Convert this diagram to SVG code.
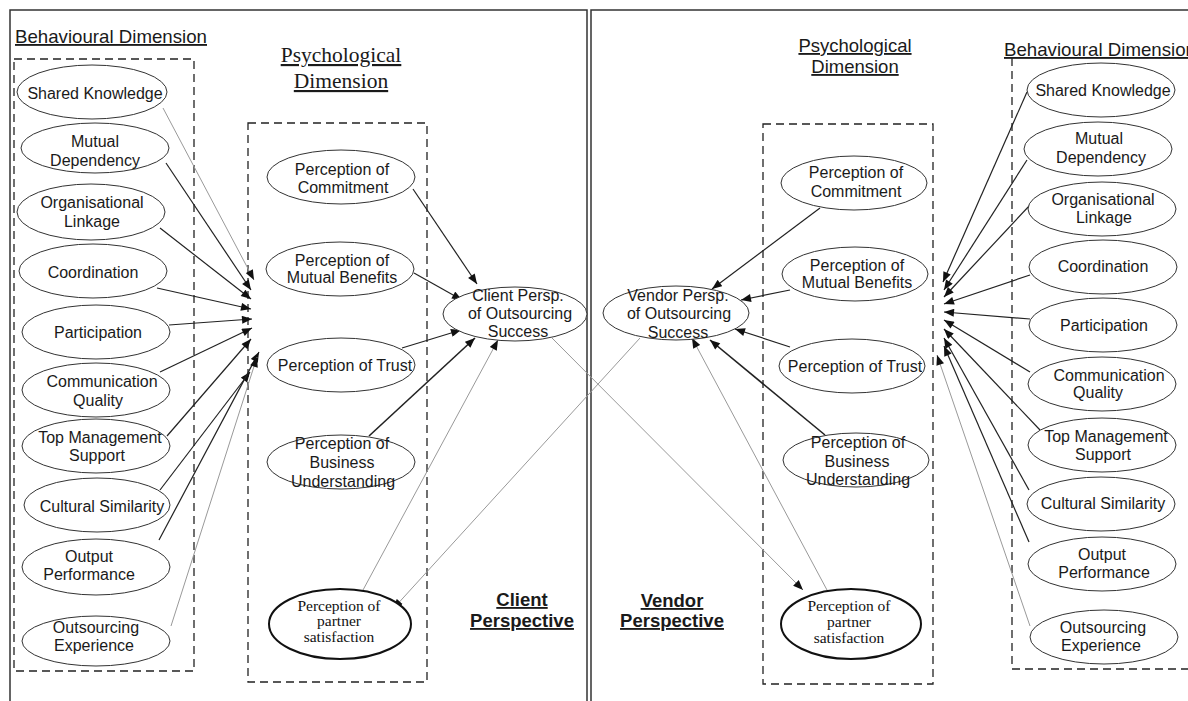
<svg xmlns="http://www.w3.org/2000/svg" width="1188" height="701" viewBox="0 0 1188 701">
<style>
.t{font-family:"Liberation Sans",Arial,sans-serif;font-size:16px;fill:#1a1a1a;text-anchor:middle}
.ts{font-family:"Liberation Serif","Times New Roman",serif;font-size:15.5px;fill:#111;text-anchor:middle}
.h{font-family:"Liberation Sans",Arial,sans-serif;font-size:18.5px;fill:#1a1a1a;text-decoration:underline}
.hs{font-family:"Liberation Serif","Times New Roman",serif;font-size:21.5px;fill:#1a1a1a;text-anchor:middle;text-decoration:underline}
.hb{font-family:"Liberation Sans",Arial,sans-serif;font-size:18.5px;font-weight:bold;fill:#1a1a1a;text-anchor:middle;text-decoration:underline}
.e{fill:#fff;stroke:#333;stroke-width:1}
.eb{fill:#fff;stroke:#111;stroke-width:2}
.frame{fill:none;stroke:#333;stroke-width:1.5}
.dash{fill:none;stroke:#222;stroke-width:1.3;stroke-dasharray:8 5}
.c{stroke:#222;stroke-width:1.2;fill:none;marker-end:url(#ah)}
.cg{stroke:#999;stroke-width:1;fill:none;marker-end:url(#ah)}
.ck{stroke:#222;stroke-width:1.6;fill:none;marker-end:url(#ah)}
</style>
<defs>
<marker id="ah" viewBox="0 0 10 8" refX="10" refY="4" markerWidth="11" markerHeight="8" markerUnits="userSpaceOnUse" orient="auto">
<path d="M0,0 L10,4 L0,8 z" fill="#111"/>
</marker>
</defs>
<rect width="1188" height="701" fill="#fff"/>
<g id="frames">
<path class="frame" d="M10,701 V10 H587 V701"/>
<path class="frame" d="M591,701 V10 H1190"/>
<rect class="dash" x="14" y="59" width="180" height="612"/>
<rect class="dash" x="248" y="123" width="179" height="559"/>
<rect class="dash" x="763" y="124" width="170" height="560"/>
<path class="dash" d="M1012,58 V669 H1190"/>
</g>
<g id="headings">
<text class="h" x="15" y="43" textLength="192" lengthAdjust="spacingAndGlyphs">Behavioural Dimension</text>
<text class="hs" x="341" y="62">Psychological</text>
<text class="hs" x="341" y="88">Dimension</text>
<text class="h" x="855" y="52" text-anchor="middle">Psychological</text>
<text class="h" x="855" y="73" text-anchor="middle">Dimension</text>
<text class="h" x="1004" y="56" textLength="192" lengthAdjust="spacingAndGlyphs">Behavioural Dimension</text>
<text class="hb" x="522" y="606">Client</text>
<text class="hb" x="522" y="627">Perspective</text>
<text class="hb" x="672" y="607">Vendor</text>
<text class="hb" x="672" y="627">Perspective</text>
</g>
<g id="connectors">
<line class="cg" x1="163" y1="108" x2="254" y2="280"/>
<line class="c" x1="166" y1="163" x2="251" y2="290"/>
<line class="c" x1="160" y1="228" x2="251" y2="299"/>
<line class="c" x1="157" y1="288" x2="251" y2="309"/>
<line class="c" x1="169" y1="325" x2="252" y2="319"/>
<line class="c" x1="160" y1="372" x2="252" y2="328"/>
<line class="c" x1="167" y1="436" x2="251" y2="339"/>
<line class="c" x1="160" y1="490" x2="250" y2="372"/>
<line class="c" x1="159" y1="540" x2="259" y2="352"/>
<line class="cg" x1="171" y1="626" x2="257" y2="357"/>
<line class="c" x1="413" y1="189" x2="477" y2="284"/>
<line class="c" x1="414" y1="273" x2="462" y2="300"/>
<line class="c" x1="402" y1="348" x2="461" y2="330"/>
<line class="ck" x1="369" y1="436" x2="475" y2="338"/>
<line class="cg" x1="363" y1="590" x2="498" y2="340"/>
<line class="cg" x1="552" y1="338" x2="803" y2="590"/>
<line class="cg" x1="640" y1="338" x2="393" y2="609"/>
<line class="c" x1="820" y1="208" x2="712" y2="289"/>
<line class="c" x1="790" y1="290" x2="741" y2="300"/>
<line class="c" x1="790" y1="347" x2="735" y2="329"/>
<line class="ck" x1="825" y1="435" x2="710" y2="340"/>
<line class="cg" x1="827" y1="590" x2="692" y2="338"/>
<line class="c" x1="1027" y1="92" x2="943" y2="282"/>
<line class="c" x1="1027" y1="160" x2="944" y2="290"/>
<line class="c" x1="1030" y1="205" x2="944" y2="297"/>
<line class="c" x1="1030" y1="275" x2="944" y2="304"/>
<line class="c" x1="1030" y1="319" x2="944" y2="312"/>
<line class="c" x1="1030" y1="372" x2="944" y2="320"/>
<line class="c" x1="1040" y1="430" x2="944" y2="329"/>
<line class="c" x1="1029" y1="490" x2="944" y2="338"/>
<line class="c" x1="1029" y1="542" x2="944" y2="346"/>
<line class="cg" x1="1030" y1="626" x2="937" y2="355"/>
</g>
<g id="cb-shared"><ellipse class="e" cx="92" cy="92" rx="75" ry="27"/><text class="t" x="95" y="99">Shared Knowledge</text></g>
<g id="cb-mutual"><ellipse class="e" cx="95" cy="148" rx="74" ry="25"/><text class="t" x="95" y="147">Mutual</text><text class="t" x="95" y="166">Dependency</text></g>
<g id="cb-org"><ellipse class="e" cx="91" cy="212" rx="74" ry="28"/><text class="t" x="92" y="208">Organisational</text><text class="t" x="92" y="227">Linkage</text></g>
<g id="cb-coord"><ellipse class="e" cx="93" cy="271" rx="74" ry="27"/><text class="t" x="93" y="278">Coordination</text></g>
<g id="cb-part"><ellipse class="e" cx="96" cy="332" rx="74" ry="27"/><text class="t" x="98" y="338">Participation</text></g>
<g id="cb-comm"><ellipse class="e" cx="96" cy="390" rx="74" ry="27"/><text class="t" x="102" y="387">Communication</text><text class="t" x="98" y="406">Quality</text></g>
<g id="cb-top"><ellipse class="e" cx="96" cy="446" rx="74" ry="27"/><text class="t" x="100" y="443">Top Management</text><text class="t" x="97" y="461">Support</text></g>
<g id="cb-cult"><ellipse class="e" cx="97" cy="505" rx="73" ry="27"/><text class="t" x="102" y="512">Cultural Similarity</text></g>
<g id="cb-output"><ellipse class="e" cx="96" cy="567" rx="74" ry="28"/><text class="t" x="89" y="562">Output</text><text class="t" x="89" y="580">Performance</text></g>
<g id="cb-exp"><ellipse class="e" cx="96" cy="641" rx="74" ry="25"/><text class="t" x="96" y="633">Outsourcing</text><text class="t" x="94" y="651">Experience</text></g>
<g id="cp-commit"><ellipse class="e" cx="341" cy="177" rx="74" ry="27"/><text class="t" x="342" y="175">Perception of</text><text class="t" x="343" y="193">Commitment</text></g>
<g id="cp-mutual"><ellipse class="e" cx="340" cy="269" rx="74" ry="27"/><text class="t" x="342" y="266">Perception of</text><text class="t" x="342" y="283">Mutual Benefits</text></g>
<g id="cp-trust"><ellipse class="e" cx="341" cy="365" rx="74" ry="27"/><text class="t" x="345" y="371">Perception of Trust</text></g>
<g id="cp-business"><ellipse class="e" cx="341" cy="462" rx="74" ry="27"/><text class="t" x="342" y="449">Perception of</text><text class="t" x="342" y="468">Business</text><text class="t" x="343" y="487">Understanding</text></g>
<g id="cp-partner"><ellipse class="eb" cx="340" cy="624" rx="71" ry="35"/><text class="ts" x="339" y="611">Perception of</text><text class="ts" x="339" y="626">partner</text><text class="ts" x="339" y="642">satisfaction</text></g>
<g id="client-success"><ellipse class="e" cx="515" cy="314" rx="72" ry="27"/><text class="t" x="518" y="301">Client Persp.</text><text class="t" x="520" y="319">of Outsourcing</text><text class="t" x="518" y="337">Success</text></g>
<g id="vendor-success"><ellipse class="e" cx="676" cy="313" rx="73" ry="27"/><text class="t" x="678" y="301">Vendor Persp.</text><text class="t" x="679" y="319">of Outsourcing</text><text class="t" x="678" y="338">Success</text></g>
<g id="vp-commit"><ellipse class="e" cx="854" cy="183" rx="73" ry="27"/><text class="t" x="856" y="178">Perception of</text><text class="t" x="856" y="197">Commitment</text></g>
<g id="vp-mutual"><ellipse class="e" cx="855" cy="274" rx="73" ry="27"/><text class="t" x="857" y="271">Perception of</text><text class="t" x="857" y="288">Mutual Benefits</text></g>
<g id="vp-trust"><ellipse class="e" cx="852" cy="366" rx="73" ry="27"/><text class="t" x="855" y="372">Perception of Trust</text></g>
<g id="vp-business"><ellipse class="e" cx="856" cy="460" rx="73" ry="27"/><text class="t" x="858" y="448">Perception of</text><text class="t" x="857" y="467">Business</text><text class="t" x="858" y="485">Understanding</text></g>
<g id="vp-partner"><ellipse class="eb" cx="851" cy="624" rx="70" ry="35"/><text class="ts" x="849" y="611">Perception of</text><text class="ts" x="849" y="627">partner</text><text class="ts" x="849" y="643">satisfaction</text></g>
<g id="vb-shared"><ellipse class="e" cx="1101" cy="90" rx="74" ry="27"/><text class="t" x="1103" y="96">Shared Knowledge</text></g>
<g id="vb-mutual"><ellipse class="e" cx="1098" cy="149" rx="74" ry="27"/><text class="t" x="1099" y="144">Mutual</text><text class="t" x="1101" y="163">Dependency</text></g>
<g id="vb-org"><ellipse class="e" cx="1102" cy="209" rx="74" ry="27"/><text class="t" x="1103" y="205">Organisational</text><text class="t" x="1104" y="223">Linkage</text></g>
<g id="vb-coord"><ellipse class="e" cx="1103" cy="267" rx="74" ry="27"/><text class="t" x="1103" y="272">Coordination</text></g>
<g id="vb-part"><ellipse class="e" cx="1103" cy="325" rx="74" ry="27"/><text class="t" x="1104" y="331">Participation</text></g>
<g id="vb-comm"><ellipse class="e" cx="1102" cy="384" rx="74" ry="27"/><text class="t" x="1109" y="381">Communication</text><text class="t" x="1098" y="398">Quality</text></g>
<g id="vb-top"><ellipse class="e" cx="1102" cy="445" rx="74" ry="27"/><text class="t" x="1106" y="442">Top Management</text><text class="t" x="1103" y="460">Support</text></g>
<g id="vb-cult"><ellipse class="e" cx="1101" cy="504" rx="74" ry="27"/><text class="t" x="1103" y="509">Cultural Similarity</text></g>
<g id="vb-output"><ellipse class="e" cx="1102" cy="564" rx="74" ry="27"/><text class="t" x="1102" y="560">Output</text><text class="t" x="1104" y="578">Performance</text></g>
<g id="vb-exp"><ellipse class="e" cx="1104" cy="637" rx="74" ry="27"/><text class="t" x="1103" y="633">Outsourcing</text><text class="t" x="1101" y="651">Experience</text></g>
</svg>
